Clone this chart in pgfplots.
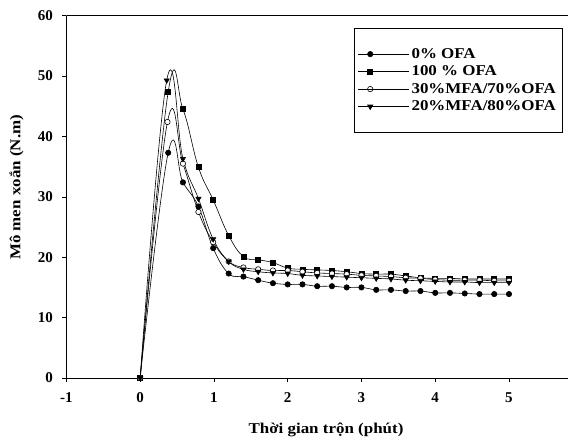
\documentclass[border=0pt]{standalone}
\usepackage{fontspec}
\setmainfont{Liberation Serif}
\newfontfamily\widefont[FakeStretch=1.13]{Liberation Serif}
\usepackage{pgfplots}
\pgfplotsset{compat=1.18}

\begin{document}
\begin{tikzpicture}
\useasboundingbox (0,0) rectangle (568pt,444pt);
\begin{axis}[
  at={(66.4pt,66pt)}, anchor=south west,
  scale only axis, width=501.6pt, height=362.3pt,
  xmin=-1, xmax=5.8, ymin=0, ymax=60,
  axis x line*=bottom, axis y line*=left,
  axis line style={-, line width=0.7pt},
  xtick={-1,0,...,5}, ytick={0,10,...,60},
  tick align=outside, major tick length=4pt,
  tick style={black, line width=0.6pt},
  /pgf/number format/assume math mode=true,
  ticklabel style={font=\fontsize{15}{17}\selectfont\bfseries},
  xticklabel style={yshift=-7pt},
  yticklabel style={xshift=-6pt},
  xlabel={Thời gian trộn (phút)},
  ylabel={Mô men xoắn (N.m)},
  label style={font=\widefont\fontsize{15}{17}\selectfont\bfseries},
  x label style={at={([yshift=-52pt]rel axis cs:0.5175,0)}, anchor=center},
  y label style={at={([xshift=-50pt]rel axis cs:0,0.526)}, anchor=center},
  legend style={at={(axis cs:2.894,57.95)}, anchor=north west,
    draw=black, line width=0.6pt, inner xsep=4pt, inner ysep=18pt,
    row sep=2pt,
    font=\widefont\fontsize{15}{17.5}\selectfont\bfseries},
  legend cell align=left,
  legend image code/.code={
    \draw[mark repeat=2,mark phase=2,#1] plot coordinates {(0pt,0pt)(12pt,0pt)(24pt,0pt)};
    \path (0pt,0pt) -- (51pt,0pt);},
  every axis plot/.append style={black, line width=0.6pt, smooth, tension=0.7},
]
\draw[line width=0.7pt] (rel axis cs:0,1) -- (rel axis cs:1,1);

% 0% OFA
\addplot[mark=*, mark size=2.7pt] coordinates {
 (0,0) (0.38,37.3) (0.58,32.4) (0.79,28.4) (0.99,21.5) (1.2,17.3) (1.4,16.8)
 (1.6,16.2) (1.8,15.7) (2.0,15.5) (2.2,15.5) (2.4,15.2) (2.6,15.2) (2.8,15.0)
 (3.0,15.0) (3.2,14.6) (3.4,14.6) (3.6,14.4) (3.8,14.4) (4.0,14.1) (4.2,14.1)
 (4.4,14.0) (4.6,13.9) (4.8,13.9) (5.0,13.9)};
\addlegendentry{0\% OFA}

% 100 % OFA
\addplot[mark=square*, mark size=2.5pt] coordinates {
 (0,0) (0.38,47.4) (0.58,44.5) (0.79,34.9) (0.99,29.5) (1.2,23.6) (1.4,20.1)
 (1.6,19.6) (1.8,19.1) (2.0,18.2) (2.2,18.0) (2.4,17.9) (2.6,17.8) (2.8,17.6)
 (3.0,17.3) (3.2,17.2) (3.4,17.2) (3.6,16.9) (3.8,16.6) (4.0,16.5) (4.2,16.5)
 (4.4,16.4) (4.6,16.4) (4.8,16.4) (5.0,16.4)};
\addlegendentry{100 \% OFA}

% 30%MFA/70%OFA
\addplot[mark=*, mark size=2.7pt, mark options={fill=white}] coordinates {
 (0,0) (0.37,42.4) (0.58,35.5) (0.79,27.5) (0.99,22.5) (1.2,19.3) (1.4,18.3)
 (1.6,18.0) (1.8,17.8) (2.0,17.8) (2.2,17.6) (2.4,17.4) (2.6,17.3) (2.8,17.2)
 (3.0,17.0) (3.2,16.9) (3.4,16.8) (3.6,16.6) (3.8,16.5) (4.0,16.3) (4.2,16.2)
 (4.4,16.2) (4.6,16.2) (4.8,16.1) (5.0,16.1)};
\addlegendentry{30\%MFA/70\%OFA}

% 20%MFA/80%OFA
\addplot[mark=triangle*, mark size=3pt, mark options={rotate=180}] coordinates {
 (0,0) (0.36,49.3) (0.58,36.3) (0.79,29.7) (0.99,23.0) (1.2,19.3) (1.4,18.0)
 (1.6,17.6) (1.8,17.4) (2.0,17.3) (2.2,17.0) (2.4,16.9) (2.6,16.8) (2.8,16.7)
 (3.0,16.6) (3.2,16.5) (3.4,16.4) (3.6,16.2) (3.8,16.1) (4.0,16.0) (4.2,15.9)
 (4.4,15.9) (4.6,15.8) (4.8,15.8) (5.0,15.8)};
\addlegendentry{20\%MFA/80\%OFA}
\end{axis}
\end{tikzpicture}
\end{document}
